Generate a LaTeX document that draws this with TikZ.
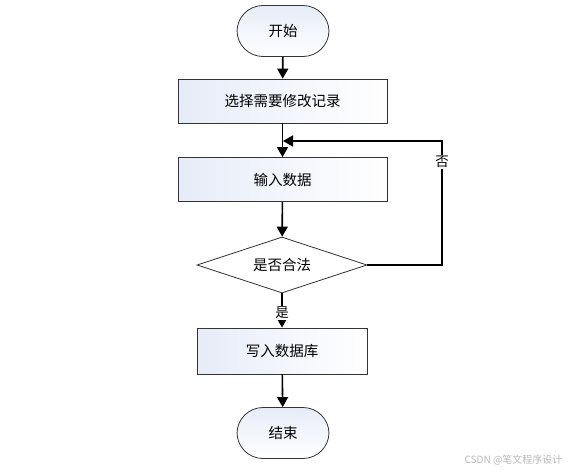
\documentclass[tikz,border=0pt]{standalone}
\usepackage{fontspec}
\setmainfont{Noto Sans CJK SC}
\usetikzlibrary{shapes.geometric,arrows.meta,positioning}
\definecolor{boxblue}{HTML}{E6ECF8}
\definecolor{edge}{HTML}{333333}
\begin{document}
\begin{tikzpicture}[x=1pt,y=-1pt,
  base/.style={draw=edge,line width=0.8pt,font=\fontsize{14.5}{15}\selectfont,inner sep=0pt},
  term/.style={base,rounded corners=26pt,minimum width=92pt,minimum height=51pt,left color=boxblue,right color=white,shading angle=0},
  proc/.style={base,rectangle,minimum width=209pt,minimum height=44pt,left color=boxblue,right color=white},
  proc2/.style={base,rectangle,minimum width=170pt,minimum height=46pt,left color=boxblue,right color=white},
  dec/.style={base,diamond,aspect=3,minimum width=170pt,minimum height=56pt,fill=white},
  conn/.style={line width=1.6pt,-{Triangle[length=10pt,width=11pt]}},
  lab/.style={font=\fontsize{13.5}{14}\selectfont,fill=white,inner sep=1pt}
]
\useasboundingbox (0,0) rectangle (570,471);
\node[term] (start) at (283,31) {开始};
\node[proc] (sel) at (282.5,101) {选择需要修改记录};
\node[proc] (inp) at (282.5,179.5) {输入数据};
\node[dec] (chk) at (282,265) {是否合法};
\node[proc2] (wr) at (282,351) {写入数据库};
\node[term] (end) at (283,433) {结束};
\coordinate (loopin) at (283,141);
\coordinate (c1) at (442,265);
\coordinate (c2) at (442,141);

\draw[conn] (start) -- (sel);
\draw[conn] (sel) -- (inp);
\draw[conn] (inp) -- (chk);
\draw[conn] (chk) -- node[lab,pos=0.57] {是} (wr);
\draw[conn] (wr) -- (end);
\draw[conn] (chk.east) -- (c1) -- node[lab,pos=0.83] {否} (c2) -- (loopin);

\node[font=\fontsize{10}{11}\selectfont,text=gray!55,anchor=east] (wm) at (566,460) {CSDN @笔文程序设计};
\end{tikzpicture}
\end{document}
